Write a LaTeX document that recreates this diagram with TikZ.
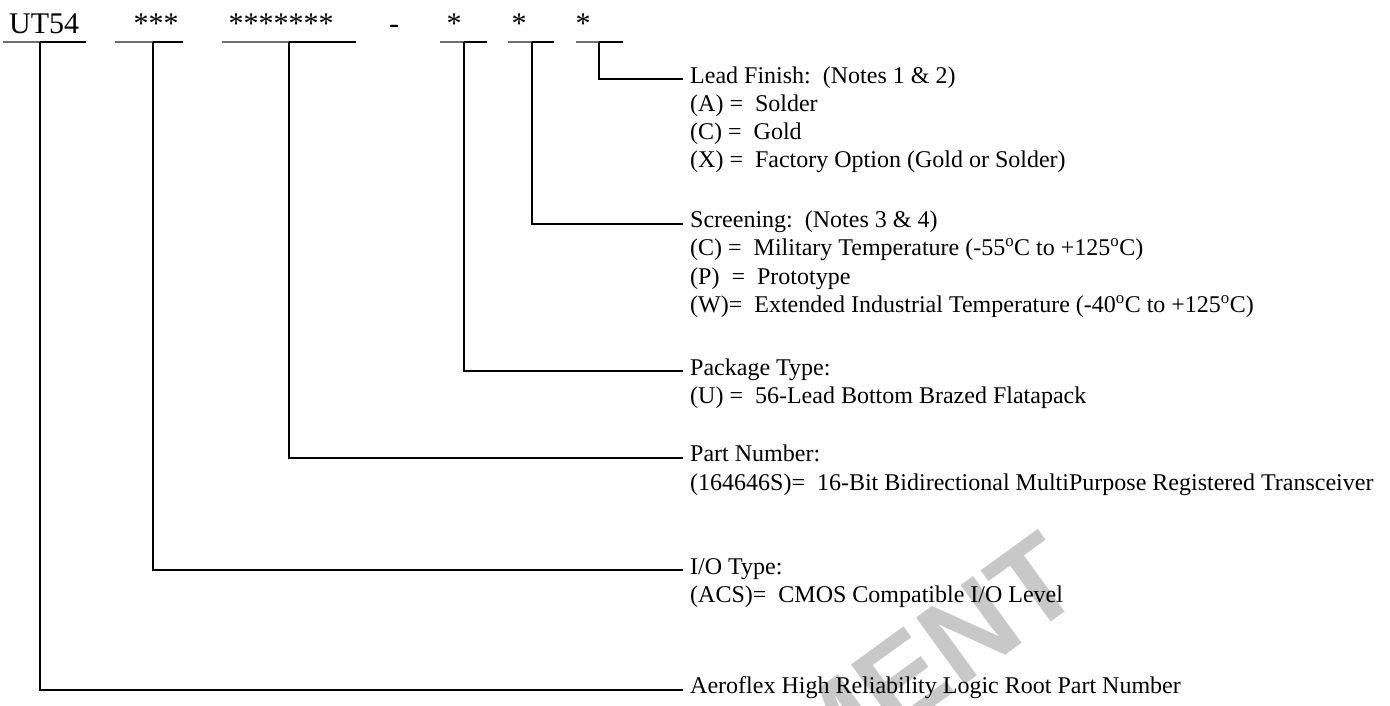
\documentclass[tikz,border=0pt]{standalone}
\usepackage{fontspec}
\setmainfont{Liberation Serif}
\newfontfamily\wmfont{Liberation Sans}
\usetikzlibrary{positioning}
\definecolor{ink}{HTML}{000000}
\definecolor{rulegray}{HTML}{6E6E6E}
\definecolor{wmgray}{HTML}{C8C8C8}

\begin{document}
\begin{tikzpicture}[
  x=1pt,y=-1pt,
  font=\fontsize{24}{28.3}\selectfont,
  field/.style={font=\fontsize{30}{34}\selectfont,inner sep=0pt,anchor=base west},
  desc/.style={inner sep=0pt,anchor=base west},
  opt/.style={desc,below=28.3pt of #1.base west,anchor=base west},
  under/.style={line width=2pt,draw=rulegray},
  tap/.style={line width=2pt,draw=ink,line cap=butt,line join=miter}
]
\fill[white] (0,0) rectangle (1390,705);
\useasboundingbox (0,0) rectangle (1390,705);

% watermark, mostly outside the page
\node[font=\wmfont\bfseries\fontsize{120}{120}\selectfont,text=wmgray,
      rotate=36,inner sep=0pt] (wm) at (926,662) {MENT};

% part number fields
\node[field] (root) at (9,33.3) {UT54};
\node[field] (io)   at (133.5,33.3) {***};
\node[field] (pn)   at (228.5,33.3) {*******};
\node[field] (dash) at (389,33.3) {-};
\node[field] (pkg)  at (446.5,33.3) {*};
\node[field] (scr)  at (511.5,33.3) {*};
\node[field] (lead) at (575.5,33.3) {*};

\foreach \n/\a/\t/\b in {root/2.7/40/86,io/115/153/183,pn/221.7/289/355.7,
                         pkg/440/464/486.7,scr/508/531.7/554,lead/576/599.3/622.7}{
  \coordinate (\n-tap) at (\t,41.7);
  \draw[under] (\a,41.7) -- (\n-tap);
  \draw[tap] (\n-tap) -- (\b,41.7);
}

% descriptions
\node[desc] (leadD) at (690,83) {Lead Finish:\ \ (Notes 1 \& 2)};
\node[opt=leadD] (leadA) {(A) =\ \ Solder};
\node[opt=leadA] (leadC) {(C) =\ \ Gold};
\node[opt=leadC] (leadX) {(X) =\ \ Factory Option (Gold or Solder)};

\node[desc] (scrD) at (690,227.5) {Screening:\ \ (Notes 3 \& 4)};
\node[opt=scrD] (scrC) {(C) =\ \ Military Temperature (-55\textsuperscript{o}C to +125\textsuperscript{o}C)};
\node[opt=scrC] (scrP) {(P)\ \ =\ \ Prototype};
\node[opt=scrP] (scrW) {(W)=\ \ Extended Industrial Temperature (-40\textsuperscript{o}C to +125\textsuperscript{o}C)};

\node[desc] (pkgD) at (690,375) {Package Type:};
\node[opt=pkgD] (pkgU) {(U) =\ \ 56-Lead Bottom Brazed Flatapack};

\node[desc] (pnD) at (690,461.7) {Part Number:};
\node[opt=pnD] (pnS) {(164646S)=\ \ 16-Bit Bidirectional MultiPurpose Registered Transceiver};

\node[desc] (ioD) at (690,574) {I/O Type:};
\node[opt=ioD] (ioA) {(ACS)=\ \ CMOS Compatible I/O Level};

\node[desc] (rootD) at (690,693.5) {Aeroflex High Reliability Logic Root Part Number};

% leaders from each field to its description
\foreach \n in {lead,scr,pkg,pn,io,root}
  \draw[tap] (\n-tap) |- ([xshift=-7pt,yshift=4pt]\n D.base west);
\end{tikzpicture}
\end{document}
